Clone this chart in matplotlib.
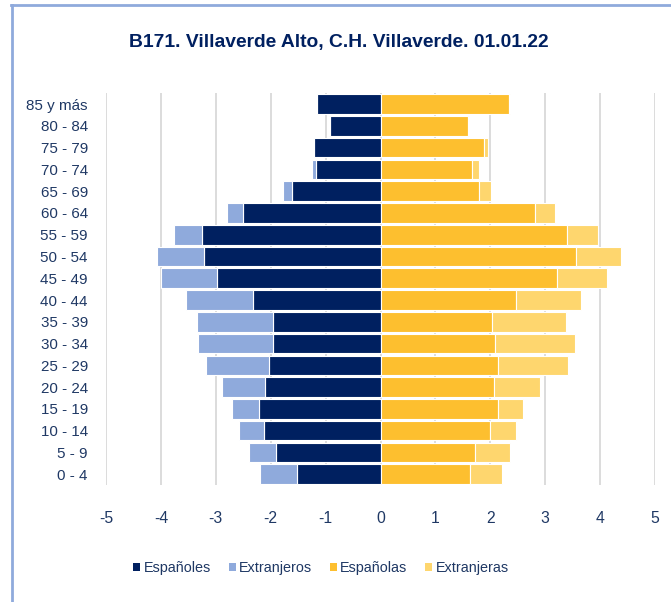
import matplotlib
matplotlib.use('Agg')
import matplotlib.pyplot as plt
from matplotlib import font_manager
from matplotlib.patches import Patch
from matplotlib.lines import Line2D
import numpy as np

# datos (de 0-4 hasta 85 y más)
grupos = ['0 - 4', '5 - 9', '10 - 14', '15 - 19', '20 - 24', '25 - 29', '30 - 34',
          '35 - 39', '40 - 44', '45 - 49', '50 - 54', '55 - 59', '60 - 64',
          '65 - 69', '70 - 74', '75 - 79', '80 - 84', '85 y más']
espanoles = [1.53, 1.90, 2.13, 2.22, 2.10, 2.03, 1.96, 1.96, 2.32, 2.97, 3.21, 3.25,
             2.50, 1.62, 1.18, 1.22, 0.92, 1.16]
extranjeros = [0.67, 0.50, 0.45, 0.48, 0.79, 1.14, 1.37, 1.39, 1.23, 1.03, 0.87, 0.51,
               0.30, 0.16, 0.07, 0.00, 0.02, 0.00]
espanolas = [1.63, 1.72, 2.00, 2.14, 2.06, 2.14, 2.08, 2.04, 2.47, 3.21, 3.56, 3.40,
             2.81, 1.80, 1.67, 1.88, 1.59, 2.34]
extranjeras = [0.59, 0.63, 0.47, 0.45, 0.84, 1.28, 1.46, 1.34, 1.19, 0.91, 0.82, 0.56,
               0.36, 0.22, 0.13, 0.07, 0.02, 0.02]
ticks_x = [-5, -4, -3, -2, -1, 0, 1, 2, 3, 4, 5]
series = ['Españoles', 'Extranjeros', 'Españolas', 'Extranjeras']
titulo = 'B171. Villaverde Alto, C.H. Villaverde. 01.01.22'

colores = ['#002060', '#8FAADC', '#FDBF2F', '#FED66E']
color_texto = '#1F3864'

nombres = {f.name for f in font_manager.fontManager.ttflist}
if 'Liberation Sans Narrow' in nombres:
    fuente = 'Liberation Sans Narrow'
    k = 1.0
else:
    fuente = 'Liberation Sans'
    k = 0.84
plt.rcParams['font.family'] = [fuente, 'DejaVu Sans']

fig = plt.figure(figsize=(6.71, 6.02), dpi=100)
ax = fig.add_axes([106 / 671, 1 - 485 / 602, 549 / 671, 391.7 / 602])

y = np.arange(len(grupos))
esp_m = np.array(espanoles)
ext_m = np.array(extranjeros)
esp_f = np.array(espanolas)
ext_f = np.array(extranjeras)

alto = 0.9
kw = dict(height=alto, edgecolor='white', linewidth=0.8, zorder=3)
ax.barh(y, -esp_m, color=colores[0], **kw)
ax.barh(y, -ext_m, left=-esp_m, color=colores[1], **kw)
ax.barh(y, esp_f, color=colores[2], **kw)
ax.barh(y, ext_f, left=esp_f, color=colores[3], **kw)

ax.set_xlim(-5, 5)
ax.set_ylim(-0.5, len(grupos) - 0.5)
ax.set_xticks(ticks_x)
ax.set_xticklabels([str(t) for t in ticks_x])
ax.set_yticks(y)
ax.set_yticklabels(grupos)
ax.tick_params(axis='both', length=0, colors=color_texto, labelsize=13 * k)
ax.tick_params(axis='x', pad=19, labelsize=13.5 * k)
ax.tick_params(axis='y', pad=13)
for s in ax.spines.values():
    s.set_visible(False)
ax.grid(axis='x', color='#D9D9D9', linewidth=1.3, zorder=0)
ax.set_axisbelow(True)

fig.text(339 / 671, 1 - 43 / 602, titulo, ha='center', va='center',
         fontsize=16.5 * k, fontweight='bold', color='#002060')

manijas = [Patch(facecolor=c, edgecolor='none') for c in colores]
fig.legend(manijas, series, loc='center', bbox_to_anchor=(321 / 671, 1 - 568 / 602),
           ncol=4, frameon=False, fontsize=12.3 * k, handlelength=0.5, handleheight=0.5,
           handletextpad=0.25, columnspacing=1.2, labelcolor=color_texto)

# borde del gráfico
fig.add_artist(Line2D([11 / 671, 1], [1 - 5 / 602, 1 - 5 / 602], transform=fig.transFigure,
                      color='#8FAADC', linewidth=2))
fig.add_artist(Line2D([12 / 671, 12 / 671], [0, 1 - 5 / 602], transform=fig.transFigure,
                      color='#8FAADC', linewidth=2))

fig.savefig('out.png', dpi=100)
